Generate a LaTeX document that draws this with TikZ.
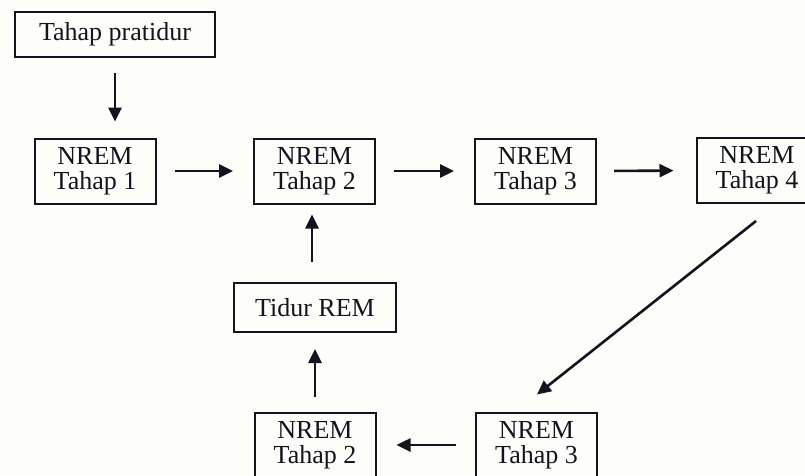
\documentclass[tikz,border=0pt]{standalone}
\usepackage{fontspec}
\setmainfont{Liberation Serif}
\usetikzlibrary{arrows.meta}
\definecolor{bgc}{HTML}{FDFDF9}
\definecolor{ink}{HTML}{14141E}
\begin{document}
\begin{tikzpicture}[x=1pt,y=-1pt,
  box/.style={draw=ink,line width=2pt,inner sep=0pt,align=center,text=ink,
    font=\fontsize{26}{25}\selectfont},
  nbox/.style={box,minimum width=121pt,minimum height=65pt},
  arr/.style={draw=ink,line width=2.6pt,-{Triangle[length=14pt,width=13pt]}}]
\useasboundingbox (0,0) rectangle (805,475);
\fill[bgc] (0,0) rectangle (805,475);
\clip (0,0) rectangle (805,475);
\node[box,minimum width=200pt,minimum height=45pt] (pra) at (115,34.5) {Tahap pratidur};
\node[nbox] (t1) at (95,171) {NREM\\Tahap 1};
\node[nbox] (t2) at (314.5,171) {NREM\\Tahap 2};
\node[nbox] (t3) at (535.5,171) {NREM\\Tahap 3};
\node[nbox] (t4) at (757,170.5) {NREM\\Tahap 4};
\node[box,minimum width=162pt,minimum height=49pt] (rem) at (315,307.5) {Tidur REM};
\node[nbox] (b2) at (315,445) {NREM\\Tahap 2};
\node[nbox] (b3) at (536.5,445) {NREM\\Tahap 3};
\draw[arr,shorten <=15pt,shorten >=16pt] (pra.south) -- ([xshift=20pt]t1.north);
\draw[arr,shorten <=18pt,shorten >=20pt] (t1.east) -- (t2.west);
\draw[arr,shorten <=18pt,shorten >=20pt] (t2.east) -- (t3.west);
\draw[arr,shorten <=17pt,shorten >=22pt] (t3.east) -- (t4.west);
\draw[arr,shorten <=20pt,shorten >=10pt] ([xshift=-3pt]rem.north) -- ([xshift=-2.5pt]t2.south);
\draw[arr,shorten <=15pt,shorten >=16pt] (b2.north) -- (rem.south);
\draw[arr,shorten <=19pt,shorten >=20pt] (b3.west) -- (b2.east);
\draw[arr] ([shift={(-1pt,-17pt)}]t4.south) -- ([shift={(0.5pt,17pt)}]b3.north);
\end{tikzpicture}
\end{document}
